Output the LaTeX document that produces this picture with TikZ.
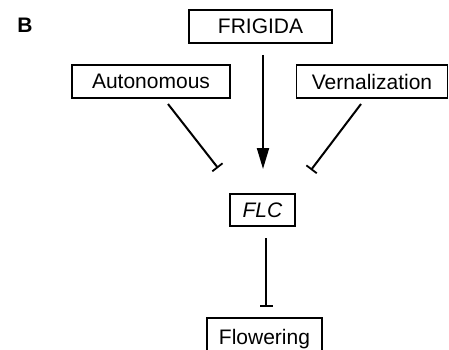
\documentclass[tikz,border=0pt]{standalone}
\usepackage{fontspec}
\setmainfont{Liberation Sans}
\usetikzlibrary{arrows.meta}
\begin{document}
\begin{tikzpicture}[x=1pt,y=-1pt,
  box/.style={draw,line width=1.4pt,inner sep=0pt,font=\fontsize{21}{21}\selectfont},
  conn/.style={line width=2pt},
  inhib/.style={conn,-{Bar[width=13pt,line width=1.8pt]}},
  activ/.style={conn,-{Triangle[length=21pt,width=12pt]}}]
\useasboundingbox (0,0) rectangle (449,350);
\clip (0,0) rectangle (449,350);
\node[font=\bfseries\fontsize{21}{21}\selectfont] (lab) at (25,25) {B};
\node[box,minimum width=143,minimum height=33] (fri) at (260.5,26.5) {FRIGIDA};
\node[box,minimum width=158,minimum height=33] (aut) at (151,81.5) {Autonomous};
\node[box,minimum width=151,minimum height=33] (ver) at (372,81.5) {Vernalization};
\node[box,minimum width=65,minimum height=32] (flc) at (262.5,210) {\itshape FLC};
\node[box,minimum width=115,minimum height=40,text depth=2pt] (flo) at (264.5,338) {Flowering};
\coordinate (f1) at (263,55);
\coordinate (f2) at (263,169);
\coordinate (a1) at (168,104);
\coordinate (a2) at (218,168);
\coordinate (v1) at (361,104);
\coordinate (v2) at (311,170);
\coordinate (l1) at (266,238);
\coordinate (l2) at (266,307);
\draw[activ] (f1) -- (f2);
\draw[inhib] (a1) -- (a2);
\draw[inhib] (v1) -- (v2);
\draw[inhib] (l1) -- (l2);
\end{tikzpicture}
\end{document}
